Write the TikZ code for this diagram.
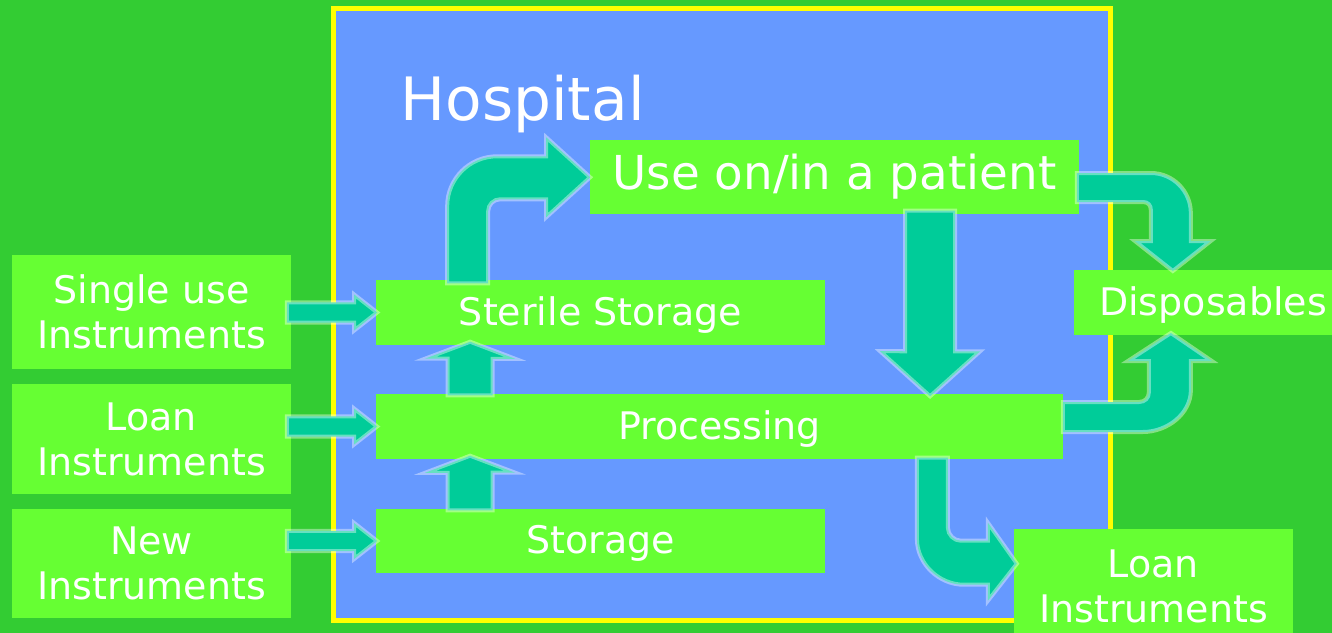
\documentclass[tikz,border=0pt]{standalone}
\usepackage{fontspec}
\setmainfont{DejaVu Sans}
\usetikzlibrary{calc}
\definecolor{bggreen}{HTML}{33CC33}
\definecolor{hospblue}{HTML}{6699FF}
\definecolor{hospyellow}{HTML}{FFFF00}
\definecolor{boxgreen}{HTML}{66FF33}
\definecolor{arrteal}{HTML}{00CC99}
\newcommand\blockarr[5]{%
  \coordinate (bac) at ($(#2)!#5!(#1)$);
  \path[barrow] ($(#1)!#3!90:(#2)$) -- ($(bac)!#3!90:(#2)$) -- ($(bac)!#4!90:(#2)$) -- (#2)
    -- ($(bac)!#4!-90:(#2)$) -- ($(bac)!#3!-90:(#2)$) -- ($(#1)!#3!-90:(#2)$) -- cycle;}
\begin{document}
\begin{tikzpicture}[x=0.01cm,y=-0.01cm,
  box/.style={fill=boxgreen, draw=none, inner sep=0pt, text=white,
    font=\fontsize{10.8}{12.8}\selectfont, align=center},
  barrow/.style={fill=arrteal, draw=white, draw opacity=0.4, line width=0.04cm, line join=miter}]
\useasboundingbox (0,0) rectangle (1332,633);
\clip (0,0) rectangle (1332,633);
\fill[bggreen] (0,0) rectangle (1332,633);
% hospital
\node[draw=hospyellow, line width=0.05cm, fill=hospblue, minimum width=7.77cm,
  minimum height=6.115cm, inner sep=0pt] (hosp) at (722,314.25) {};
\node[anchor=base west, text=white, font=\fontsize{17}{20}\selectfont, inner sep=0pt]
  (hlabel) at (400,120) {Hospital};
% boxes
\node[box, minimum width=4.89cm, minimum height=0.74cm, font=\fontsize{13.3}{16}\selectfont,
  text height=0.73em, text depth=0pt] (use) at (834.5,177) {Use on/in a patient};
\node[box, minimum width=4.49cm, minimum height=0.65cm, text height=0.73em, text depth=0pt]
  (sterile) at (600.5,312.5) {Sterile Storage};
\node[box, minimum width=6.87cm, minimum height=0.65cm, text height=0.73em, text depth=0pt]
  (proc) at (719.5,426.5) {Processing};
\node[box, minimum width=4.49cm, minimum height=0.64cm, text height=0.73em, text depth=0pt]
  (stor) at (600.5,541) {Storage};
\node[box, minimum width=2.79cm, minimum height=1.14cm] (single) at (151.5,312) {Single use\\Instruments};
\node[box, minimum width=2.79cm, minimum height=1.10cm] (loanL) at (151.5,439) {Loan\\Instruments};
\node[box, minimum width=2.79cm, minimum height=1.09cm] (newI) at (151.5,563.5) {New\\Instruments};
\node[box, minimum width=2.78cm, minimum height=0.65cm, text height=0.73em, text depth=0pt]
  (disp) at (1213,302.5) {Disposables};
\node[box, minimum width=2.79cm, minimum height=1.14cm] (loanR) at (1153.5,586) {Loan\\Instruments};
% straight arrows in from the left
\coordinate (s1) at ($(sterile.west -| single.east)+(-5,0)$);
\coordinate (t1) at ($(sterile.west)+(2,0)$);
\blockarr{s1}{t1}{0.10cm}{0.18cm}{0.23cm}
\coordinate (s2) at ($(proc.west -| loanL.east)+(-5,0)$);
\coordinate (t2) at ($(proc.west)+(2,0)$);
\blockarr{s2}{t2}{0.10cm}{0.18cm}{0.23cm}
\coordinate (s3) at ($(stor.west -| newI.east)+(-5,0)$);
\coordinate (t3) at ($(stor.west)+(2,0)$);
\blockarr{s3}{t3}{0.10cm}{0.18cm}{0.23cm}
% up arrows
\coordinate (s4) at ($(stor.north west)+(95,2)$);
\coordinate (t4) at ($(proc.south west)+(95,-4)$);
\blockarr{s4}{t4}{0.225cm}{0.45cm}{0.17cm}
\coordinate (s5) at ($(proc.north west)+(95,2)$);
\coordinate (t5) at ($(sterile.south west)+(95,-4)$);
\blockarr{s5}{t5}{0.225cm}{0.45cm}{0.17cm}
% down arrow
\coordinate (s6) at ($(use.south west)+(341,-4)$);
\coordinate (t6) at ($(proc.north west)+(555,3)$);
\blockarr{s6}{t6}{0.25cm}{0.50cm}{0.45cm}
% bent arrow sterile -> use
\begin{scope}[shift={(sterile.north west)}]
\path[barrow] (72,4) -- (72,-73) .. controls (72,-100.6) and (94.4,-123) .. (122,-123)
  -- (171,-123) -- (171,-142) -- (215,-102) -- (171,-62) -- (171,-80) -- (125,-80)
  .. controls (118.4,-80) and (113,-74.6) .. (113,-68) -- (113,4) -- cycle;
\end{scope}
% bent arrow use -> disposables
\begin{scope}[shift={(use.east)}]
\path[barrow] (-3,-4) -- (71,-4) .. controls (93,-4) and (111,14) .. (111,36)
  -- (111,64) -- (131,64) -- (93,94) -- (55,64) -- (71,64) -- (71,33)
  .. controls (71,28) and (68,25) .. (63,25) -- (-3,25) -- cycle;
\end{scope}
% bent arrow processing -> disposables
\begin{scope}[shift={(proc.east)}]
\path[barrow] (-1,-24.5) -- (75,-24.5) .. controls (81,-24.5) and (85,-28.5) .. (85,-34.5)
  -- (85,-65.5) -- (64,-65.5) -- (107,-93.5) -- (148,-65.5) -- (127,-65.5) -- (127,-36.5)
  .. controls (127,-12.5) and (103,5.5) .. (79,5.5) -- (-1,5.5) -- cycle;
\end{scope}
% bent arrow processing -> loan instruments
\begin{scope}[shift={(proc.south east)}]
\path[barrow] (-147,-2) -- (-147,79) .. controls (-147,104) and (-125,125) .. (-100,125)
  -- (-76,125) -- (-76,141) -- (-47,104) -- (-76,63) -- (-76,81) -- (-103,81)
  .. controls (-110,81) and (-116,75) .. (-116,68) -- (-116,-2) -- cycle;
\end{scope}
\end{tikzpicture}
\end{document}
